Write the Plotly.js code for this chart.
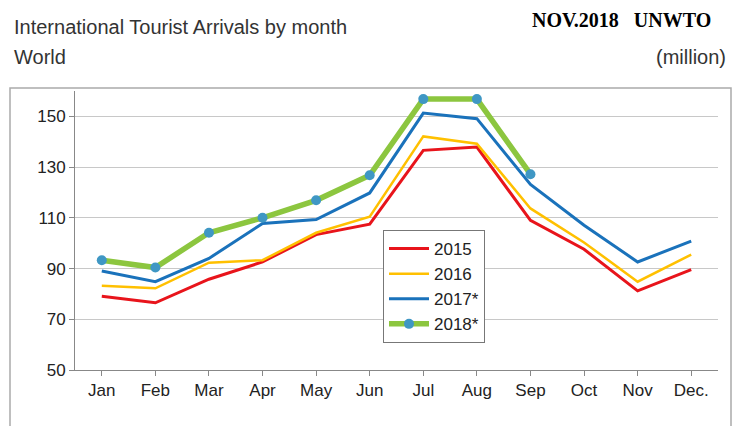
<!DOCTYPE html>
<html><head><meta charset="utf-8">
<script src="https://cdn.plot.ly/plotly-3.0.1.min.js"></script>
<style>html,body{margin:0;padding:0;background:#fff;}#chart{width:739px;height:426px;}</style>
</head><body><div id="chart"></div>
<script>
const months = ["Jan","Feb","Mar","Apr","May","Jun","Jul","Aug","Sep","Oct","Nov","Dec."];
const y2015 = [79.1, 76.5, 85.8, 92.6, 103.4, 107.5, 136.6, 137.9, 109.0, 97.6, 81.2, 89.6];
const y2016 = [83.2, 82.2, 92.3, 93.3, 104.1, 110.4, 142.1, 139.2, 113.7, 100.3, 84.8, 95.5];
const y2017 = [89.0, 84.8, 94.0, 107.8, 109.3, 119.8, 151.3, 149.1, 123.2, 107.1, 92.6, 100.8];
const y2018 = [93.3, 90.4, 104.1, 110.0, 116.9, 126.8, 156.8, 156.8, 127.2];
const seriesNames = ["2015", "2016", "2017*", "2018*"];
const yTicks = [50, 70, 90, 110, 130, 150];

const L = 75, R = 21, T = 91, B = 56, W = 739, H = 426;
const pw = W - L - R, ph = H - T - B;
const px = x => (x - L) / pw;
const py = y => (H - B - y) / ph;

const traces = [
  {x: months, y: y2015, name: seriesNames[0], mode: "lines", line: {color: "#e8141b", width: 3}},
  {x: months, y: y2016, name: seriesNames[1], mode: "lines", line: {color: "#ffc000", width: 2.5}},
  {x: months, y: y2017, name: seriesNames[2], mode: "lines", line: {color: "#1a72bb", width: 3}},
  {x: months.slice(0, y2018.length), y: y2018, name: seriesNames[3], mode: "lines+markers",
   line: {color: "#8cc63f", width: 5.5}, marker: {color: "#3f97c4", size: 10}}
];

const txt = (text, x, y, anchor, font) => ({
  text: text, xref: "paper", yref: "paper", x: px(x), y: py(y),
  xanchor: anchor, yanchor: "middle", showarrow: false, font: font
});
const sans = {family: "Liberation Sans, Arial, sans-serif", size: 20, color: "#333"};
const tickFont = {family: "Liberation Sans, Arial, sans-serif", size: 17, color: "#222"};

const layout = {
  width: W, height: H,
  margin: {l: L, r: R, t: T, b: B},
  paper_bgcolor: "#fff", plot_bgcolor: "#fff",
  showlegend: true,
  legend: {
    x: px(383), y: py(230), xanchor: "left", yanchor: "top",
    bordercolor: "#777", borderwidth: 1, bgcolor: "#fff",
    font: {family: "Liberation Sans, Arial, sans-serif", size: 17, color: "#222"},
    tracegroupgap: 0, itemwidth: 40
  },
  xaxis: {
    type: "category", range: [-0.5, 11.5], showgrid: false,
    showline: true, linecolor: "#888", linewidth: 1,
    ticks: "outside", ticklen: 5, tickcolor: "#888",
    tickfont: tickFont, fixedrange: true
  },
  yaxis: {
    range: [50, 160], tickvals: yTicks, ticktext: yTicks.map(String),
    showgrid: true, gridcolor: "#c8c8c8", gridwidth: 1,
    showline: true, linecolor: "#888", linewidth: 1,
    ticks: "outside", ticklen: 5, tickcolor: "#888",
    tickfont: tickFont, zeroline: false, fixedrange: true
  },
  shapes: [{
    type: "rect", xref: "paper", yref: "paper",
    x0: px(10), x1: px(731), y0: py(440), y1: py(88),
    line: {color: "#aaa", width: 1.5}, fillcolor: "rgba(0,0,0,0)", layer: "below"
  }],
  annotations: [
    txt("International Tourist Arrivals by month", 12, 27, "left", sans),
    txt("World", 12, 57, "left", sans),
    txt("(million)", 728, 57, "right", sans),
    txt("NOV.2018&nbsp;&nbsp;&nbsp;UNWTO", 713, 20, "right",
        {family: "Liberation Serif, Times New Roman, serif", size: 20, color: "#000", weight: "bold"})
  ]
};

Plotly.newPlot("chart", traces, layout, {displayModeBar: false, staticPlot: true});
</script></body></html>
